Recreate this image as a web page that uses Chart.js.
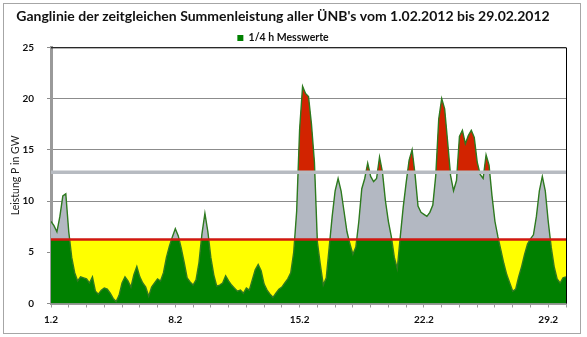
<!DOCTYPE html>
<html lang="de">
<head>
<meta charset="utf-8">
<title>Ganglinie Februar 2012</title>
<script src="https://cdn.jsdelivr.net/npm/chart.js@4.4.1/dist/chart.umd.min.js"></script>
<style>
  html, body { margin: 0; padding: 0; background: #fff; }
  #wrap { width: 587px; height: 337px; }
</style>
</head>
<body>
<div id="wrap"><canvas id="myChart" width="587" height="337"></canvas></div>
<script>
// Summenleistung in GW, 6 Werte pro Tag (alle 4 h), 1.2. 0:00 bis 1.3. 0:00
const werteProTag = 6;
const anzahlTage = 29;
const messwerte = [
  8.0, 7.6, 7.0, 8.5, 10.5, 10.7,          // 1.2.
  7.0, 4.5, 3.0, 2.2, 2.6, 2.5,
  2.4, 2.0, 2.6, 1.2, 0.9, 1.3,
  1.5, 1.4, 1.0, 0.5, 0.2, 0.8,
  2.0, 2.6, 2.2, 1.6, 2.8, 3.6,            // 5.2.
  2.6, 2.0, 1.6, 0.7, 1.6, 2.0,
  2.4, 2.2, 3.0, 4.5, 5.6, 6.5,
  7.3, 6.6, 5.4, 4.0, 2.5, 2.1,            // 8.2.
  1.8, 2.3, 4.0, 6.8, 8.8, 7.0,
  4.5, 2.8, 1.7, 1.8, 2.0, 2.7,
  2.2, 1.8, 1.5, 1.2, 1.3, 1.0,
  1.5, 1.3, 2.3, 3.3, 3.8, 3.2,            // 12.2.
  1.9, 1.3, 0.9, 0.6, 1.0, 1.4,
  1.6, 2.0, 2.4, 3.0, 5.0, 9.0,
  17.0, 21.2, 20.5, 20.2, 17.5, 13.8,      // 15.2.
  6.0, 3.8, 1.8, 2.5, 5.5, 8.5,
  11.0, 12.2, 11.0, 9.0, 7.0, 5.8,
  4.8, 5.5, 8.0, 11.2, 12.2, 13.7,
  12.4, 11.9, 12.2, 14.3, 12.8, 10.0,      // 19.2.
  8.0, 6.5, 4.5, 3.4, 6.5, 9.4,
  11.8, 14.0, 15.0, 12.6, 9.5, 8.9,
  8.7, 8.5, 8.9, 9.6, 12.5, 18.0,          // 22.2.
  20.0, 19.0, 15.8, 12.5, 11.0, 12.0,
  16.3, 16.9, 15.6, 16.4, 16.9, 16.2,
  13.8, 12.6, 12.2, 14.5, 13.5, 10.5,
  8.0, 6.5, 5.2, 3.9, 2.8, 2.0,            // 26.2.
  1.2, 1.4, 2.6, 3.6, 4.8, 5.8,
  6.3, 6.7, 8.5, 11.0, 12.4, 11.0,
  8.0, 5.5, 3.6, 2.4, 2.0, 2.5,            // 29.2.
  2.6
];
const tickTage = ['1.2', '8.2', '15.2', '22.2', '29.2'];
const grenzeUnten = 6.25;
const grenzeOben = 12.8;

const kurve = messwerte.map((v, i) => ({ x: i / werteProTag, y: v }));
const linie = y => [{ x: 0, y: y }, { x: anzahlTage, y: y }];

// Rahmen um das ganze Diagramm, oben/rechts schwarze Kante der Zeichenfläche
const rahmen = {
  id: 'rahmen',
  afterInit(chart) {
    // Legende etwas enger an die Zeichenfläche
    const lg = chart.legend;
    if (lg) {
      const fit = lg.fit.bind(lg);
      lg.fit = function () { fit(); this.height -= 6; };
    }
  },
  beforeDraw(chart) {
    const ctx = chart.ctx;
    ctx.save();
    ctx.fillStyle = '#fff';
    ctx.fillRect(0, 0, chart.width, chart.height);
    ctx.strokeStyle = '#a6a6a6';
    ctx.lineWidth = 1;
    ctx.strokeRect(3.5, 3.5, 577, 330);
    ctx.restore();
  },
  afterDraw(chart) {
    const { ctx, chartArea: a } = chart;
    ctx.save();
    ctx.strokeStyle = '#000';
    ctx.lineWidth = 1;
    ctx.beginPath();
    ctx.moveTo(a.left, a.top + 0.5);
    ctx.lineTo(a.right + 0.5, a.top + 0.5);
    ctx.lineTo(a.right + 0.5, a.bottom);
    ctx.stroke();
    ctx.restore();
  }
};

const common = { pointRadius: 0, tension: 0, borderWidth: 0, borderColor: 'transparent' };

const config = {
  type: 'line',
  data: {
    datasets: [
      {
        ...common,
        label: '1/4 h Messwerte',
        data: kurve,
        backgroundColor: '#008000',
        fill: 'origin',
        order: 6
      },
      {
        ...common,
        label: '',
        data: kurve,
        fill: { target: { value: grenzeUnten }, above: '#b3b8c2', below: '#ffff00' },
        order: 5
      },
      {
        ...common,
        label: '',
        data: kurve,
        fill: { target: { value: grenzeOben }, above: '#d22300', below: 'rgba(0,0,0,0)' },
        order: 4
      },
      {
        label: '',
        data: kurve,
        pointRadius: 0,
        borderColor: '#2e7a1f',
        borderWidth: 1.4,
        fill: false,
        order: 3
      },
      {
        label: '',
        data: linie(grenzeUnten),
        pointRadius: 0,
        borderColor: '#d01810',
        borderWidth: 2.5,
        fill: false,
        order: 2
      },
      {
        label: '',
        data: linie(grenzeOben),
        pointRadius: 0,
        borderColor: '#b7bbc1',
        borderWidth: 3.5,
        fill: false,
        order: 1
      }
    ]
  },
  options: {
    responsive: false,
    animation: false,
    events: [],
    layout: { padding: { left: 0, right: 21, top: 0, bottom: 0 } },
    scales: {
      x: {
        type: 'linear',
        min: 0,
        max: anzahlTage,
        afterFit: s => { s.height = 33.5; },
        border: { color: '#9a9a9a', width: 2 },
        grid: { drawOnChartArea: false, drawTicks: true, tickLength: 4, color: '#9a9a9a' },
        ticks: {
          stepSize: 1,
          autoSkip: false,
          maxRotation: 0,
          padding: 6,
          color: '#111',
          font: { family: 'Lato', size: 10, weight: 'bold' },
          callback: v => (v % 7 === 0 && v / 7 < tickTage.length) ? tickTage[v / 7] : ''
        }
      },
      y: {
        min: 0,
        max: 25,
        afterFit: s => { s.width = 51; },
        border: { color: '#9a9a9a', width: 3 },
        grid: { color: '#8c8c8c', tickLength: 4 },
        ticks: {
          stepSize: 5,
          padding: 13,
          color: '#111',
          font: { family: 'Lato', size: 10, weight: 'bold' }
        },
        title: {
          display: true,
          text: 'Leistung P in GW',
          color: '#222',
          padding: { top: 9, bottom: 0 },
          font: { family: 'Lato', size: 10.5 }
        }
      }
    },
    plugins: {
      tooltip: { enabled: false },
      title: {
        display: true,
        text: "Ganglinie der zeitgleichen Summenleistung aller ÜNB's vom 1.02.2012 bis 29.02.2012",
        color: '#111',
        padding: { top: 8, bottom: 3 },
        font: { family: 'Lato', size: 14, weight: 'bold' }
      },
      legend: {
        display: true,
        labels: {
          boxWidth: 6,
          boxHeight: 6,
          padding: 5,
          color: '#111',
          font: { family: 'Lato', size: 10.5, weight: 'bold' },
          filter: item => item.text !== ''
        }
      }
    }
  },
  plugins: [rahmen]
};

const myChart = new Chart(document.getElementById('myChart'), config);
</script>
</body>
</html>
